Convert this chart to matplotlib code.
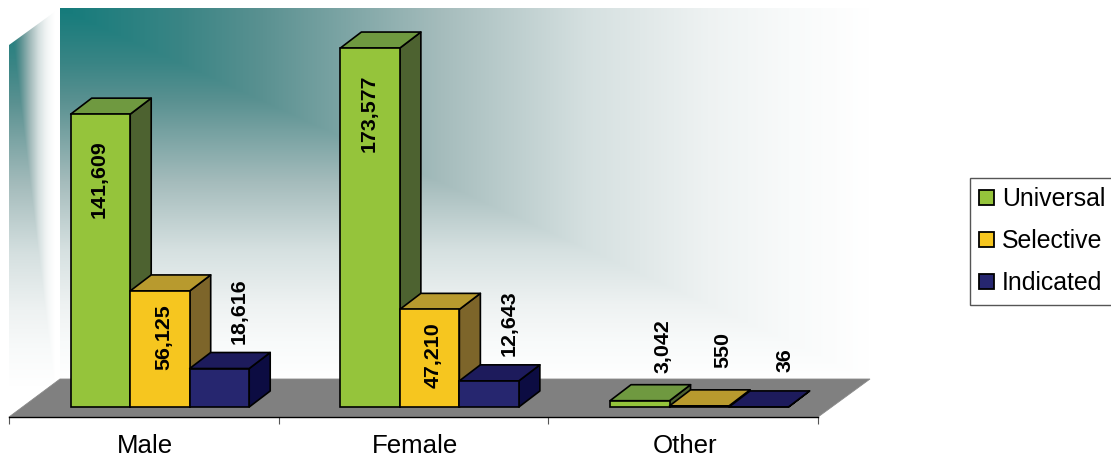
import numpy as np
import matplotlib
matplotlib.use("Agg")
import matplotlib.pyplot as plt
from matplotlib.patches import Polygon, Patch
from matplotlib.transforms import ScaledTranslation

categories = ["Male", "Female", "Other"]
series_names = ["Universal", "Selective", "Indicated"]
universal = [141609, 173577, 3042]
selective = [56125, 47210, 550]
indicated = [18616, 12643, 36]

front_colors = ["#95c43b", "#f6c61f", "#26266f"]
top_colors = ["#6f9940", "#b89a2e", "#1d1b5c"]
side_colors = ["#4d6230", "#7d652a", "#0c0c42"]

# layout in pixels
W, H = 1111, 457
AX_L, AX_R, AX_T, AX_B = 9, 818, 8, 417
BASE_Y = 407
PX_PER_CAT = (AX_R - AX_L) / 3
PX_PER_VAL = 0.002068
BAR_PX = 59.5
GROUP_PAD_PX = 61.7
DEPTH_DX, DEPTH_DY = 21, 16
# label anchor offset from the front-top centre of each bar: (dx, dy up) px of label's bottom
label_offsets = [
    [(-1, -104), (-1, -104), (23, 28)],
    [(4, -79), (4, -79), (24, 38)],
    [(20, 25), (20, 25), (26, 35)],
]
# wall gradient stops: position, RGB
grad_t = [0, 0.15, 0.25, 0.47, 0.65, 0.8, 0.9, 1.0]
grad_r = [20, 58, 90, 165, 213, 238, 248, 255]
grad_g = [123, 133, 145, 188, 224, 242, 250, 255]
grad_b = [123, 133, 145, 188, 224, 242, 250, 255]

plt.rcParams["font.family"] = ["Liberation Sans", "DejaVu Sans"]
fig = plt.figure(figsize=(W / 100, H / 100), dpi=100)
ax = fig.add_axes([AX_L / W, 1 - AX_B / H, (AX_R - AX_L) / W, (AX_B - AX_T) / H])
ax.set_facecolor("none")


def X(px):
    return (px - AX_L) / PX_PER_CAT


def Y(py):
    return (BASE_Y - py) / PX_PER_VAL


def P(px, py):
    return (X(px), Y(py))


def ramp(t):
    t = np.clip(t, 0, 1)
    return np.dstack([np.interp(t, grad_t, c) for c in (grad_r, grad_g, grad_b)]) / 255


# back wall gradient
BW_L, BW_R, BW_T, BW_B = 60, 870, 8, 379
u, v = np.meshgrid(np.linspace(0, 1, 810), np.linspace(0, 1, 371))
im = ax.imshow(ramp(np.maximum(u, v)), extent=[X(BW_L), X(BW_R), Y(BW_B), Y(BW_T)],
               origin="upper", aspect="auto", zorder=0)
im.set_clip_on(False)

# left wall gradient
LW_L = 9
u2, v2 = np.meshgrid(np.linspace(0, 1, 51), np.linspace(0, 1, 409))
im2 = ax.imshow(ramp(np.maximum(u2 * 51 / 46, v2 * 409 / 378)),
                extent=[X(LW_L), X(BW_L), Y(AX_B), Y(BW_T)], origin="upper", aspect="auto", zorder=0)
clip = Polygon([P(LW_L, 45), P(BW_L, BW_T), P(BW_L, BW_B), P(LW_L, AX_B)], closed=True,
               transform=ax.transData, fc="none", ec="none")
ax.add_patch(clip)
im2.set_clip_path(clip)

# floor
floor = Polygon([P(AX_L, AX_B), P(AX_R, AX_B), P(BW_R, BW_B), P(BW_L, BW_B)], closed=True,
                fc="#808080", ec="#8a8a8a", lw=0.6, zorder=1, clip_on=False)
ax.add_patch(floor)

# bars
series_values = [universal, selective, indicated]
bw = BAR_PX / PX_PER_CAT
dx, dy = DEPTH_DX / PX_PER_CAT, DEPTH_DY / PX_PER_VAL
for c in range(len(categories)):
    for s, vals in enumerate(series_values):
        x0 = c + GROUP_PAD_PX / PX_PER_CAT + s * bw
        x1 = x0 + bw
        val = vals[c]
        z = 2 + s * 3
        ax.add_patch(Polygon([(x1, 0), (x1 + dx, dy), (x1 + dx, val + dy), (x1, val)], closed=True,
                             fc=side_colors[s], ec="black", lw=1.2, zorder=z, joinstyle="round"))
        ax.add_patch(Polygon([(x0, val), (x1, val), (x1 + dx, val + dy), (x0 + dx, val + dy)], closed=True,
                             fc=top_colors[s], ec="black", lw=1.2, zorder=z + 1, joinstyle="round"))
        ax.bar(x0, val, bw, align="edge", color=front_colors[s], edgecolor="black", lw=1.2, zorder=z + 2)

for c in range(len(categories)):
    for s, vals in enumerate(series_values):
        x0 = c + GROUP_PAD_PX / PX_PER_CAT + s * bw
        ox, oy = label_offsets[s][c]
        ax.annotate(f"{vals[c]:,}", (x0 + bw / 2, vals[c]), xytext=(ox * 0.72, oy * 0.72),
                    textcoords="offset points", rotation=90, ha="center", va="bottom",
                    fontsize=15.4, fontweight="bold", color="black", zorder=30, annotation_clip=False)

# axes
ax.set_xlim(0, 3)
ax.set_ylim(Y(AX_B), Y(AX_T))
ax.set_yticks([])
for sp in ["top", "left", "right"]:
    ax.spines[sp].set_visible(False)
ax.spines["bottom"].set_color("black")
ax.spines["bottom"].set_linewidth(1.0)
ax.spines["bottom"].set_zorder(2)
ax.set_xticks([0, 1, 2, 3])
ax.set_xticklabels([])
ax.tick_params(axis="x", which="major", length=5, width=0.8, color="#555555")
ax.set_xticks([0.5, 1.5, 2.5], minor=True)
ax.set_xticklabels(categories, minor=True, fontsize=18.6)
ax.tick_params(axis="x", which="minor", length=0, pad=12)
shift = ScaledTranslation(1.5 / 100, 0, fig.dpi_scale_trans)
for lab in ax.get_xticklabels(minor=True):
    lab.set_transform(lab.get_transform() + shift)

# legend
handles = [Patch(fc=front_colors[i], ec="black", lw=1.3) for i in range(3)]
leg = ax.legend(handles, series_names, loc="upper left", bbox_to_anchor=(970 / W, 1 - 178 / H),
                bbox_transform=fig.transFigure, borderaxespad=0, fontsize=17.9, frameon=True,
                fancybox=False, framealpha=1, edgecolor="#555555", handlelength=0.58, handleheight=0.58,
                handletextpad=0.32, labelspacing=0.72, borderpad=0.38)
leg.get_frame().set_linewidth(1.0)

fig.savefig("out.png", dpi=100)
